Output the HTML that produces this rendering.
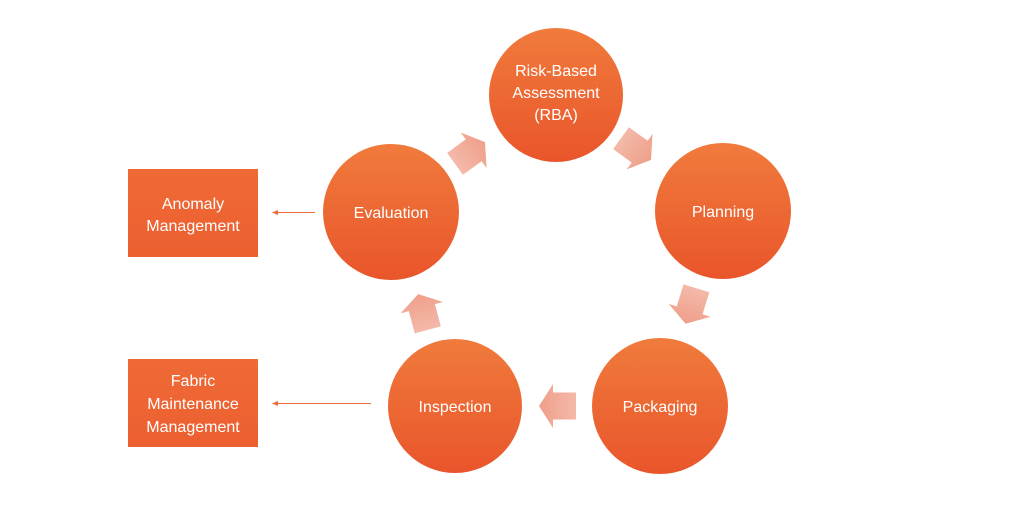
<!DOCTYPE html>
<html>
<head>
<meta charset="utf-8">
<style>
html,body{margin:0;padding:0;background:#fff;}
svg{display:block;}
text{font-family:"Liberation Sans",Arial,sans-serif;fill:#fff;font-size:16px;text-anchor:middle;}
</style>
</head>
<body>
<svg width="1024" height="512" viewBox="0 0 1024 512" xmlns="http://www.w3.org/2000/svg">
<defs>
<linearGradient id="cg" x1="0" y1="0" x2="0" y2="1">
<stop offset="0" stop-color="#f07b3c"/>
<stop offset="1" stop-color="#e9552b"/>
</linearGradient>
<linearGradient id="bg" x1="0" y1="0" x2="0" y2="1">
<stop offset="0" stop-color="#ef6a36"/>
<stop offset="1" stop-color="#ec5f30"/>
</linearGradient>
<linearGradient id="ag" x1="0" y1="0" x2="1" y2="0">
<stop offset="0" stop-color="#f4b9a9"/>
<stop offset="1" stop-color="#ef9f8a"/>
</linearGradient>
<path id="blk" d="M18.5,0 L4.5,-22 L4.5,-13.5 L-18.5,-13.5 L-18.5,13.5 L4.5,13.5 L4.5,22 Z" fill="url(#ag)"/>
</defs>

<!-- circles -->
<circle cx="556" cy="95" r="67" fill="url(#cg)"/>
<circle cx="723" cy="211" r="68" fill="url(#cg)"/>
<circle cx="660" cy="406" r="68" fill="url(#cg)"/>
<circle cx="455" cy="406" r="67" fill="url(#cg)"/>
<circle cx="391" cy="212" r="68" fill="url(#cg)"/>

<!-- block arrows -->
<use href="#blk" transform="translate(470,153) rotate(-36)"/>
<use href="#blk" transform="translate(636,149) rotate(36)"/>
<use href="#blk" transform="translate(691,306) rotate(107)"/>
<use href="#blk" transform="translate(557.5,406) rotate(180)"/>
<use href="#blk" transform="translate(423,312) rotate(-105)"/>

<!-- circle labels -->
<text x="556" y="76">Risk-Based</text>
<text x="556" y="98">Assessment</text>
<text x="556" y="120">(RBA)</text>
<text x="723" y="217">Planning</text>
<text x="660" y="412">Packaging</text>
<text x="455" y="412">Inspection</text>
<text x="391" y="218">Evaluation</text>

<!-- side boxes -->
<rect x="128" y="169" width="130" height="88" fill="url(#bg)"/>
<text x="193" y="209">Anomaly</text>
<text x="193" y="231">Management</text>

<rect x="128" y="359" width="130" height="88" fill="url(#bg)"/>
<text x="193" y="386">Fabric</text>
<text x="193" y="409">Maintenance</text>
<text x="193" y="432">Management</text>

<!-- connectors -->
<line x1="315" y1="212.5" x2="276" y2="212.5" stroke="#ee6a3a" stroke-width="1"/>
<path d="M272,212.5 L278,210 L278,215 Z" fill="#ee6a3a"/>
<line x1="371" y1="403.5" x2="276" y2="403.5" stroke="#ee6a3a" stroke-width="1"/>
<path d="M272,403.5 L278,401 L278,406 Z" fill="#ee6a3a"/>
</svg>
</body>
</html>
